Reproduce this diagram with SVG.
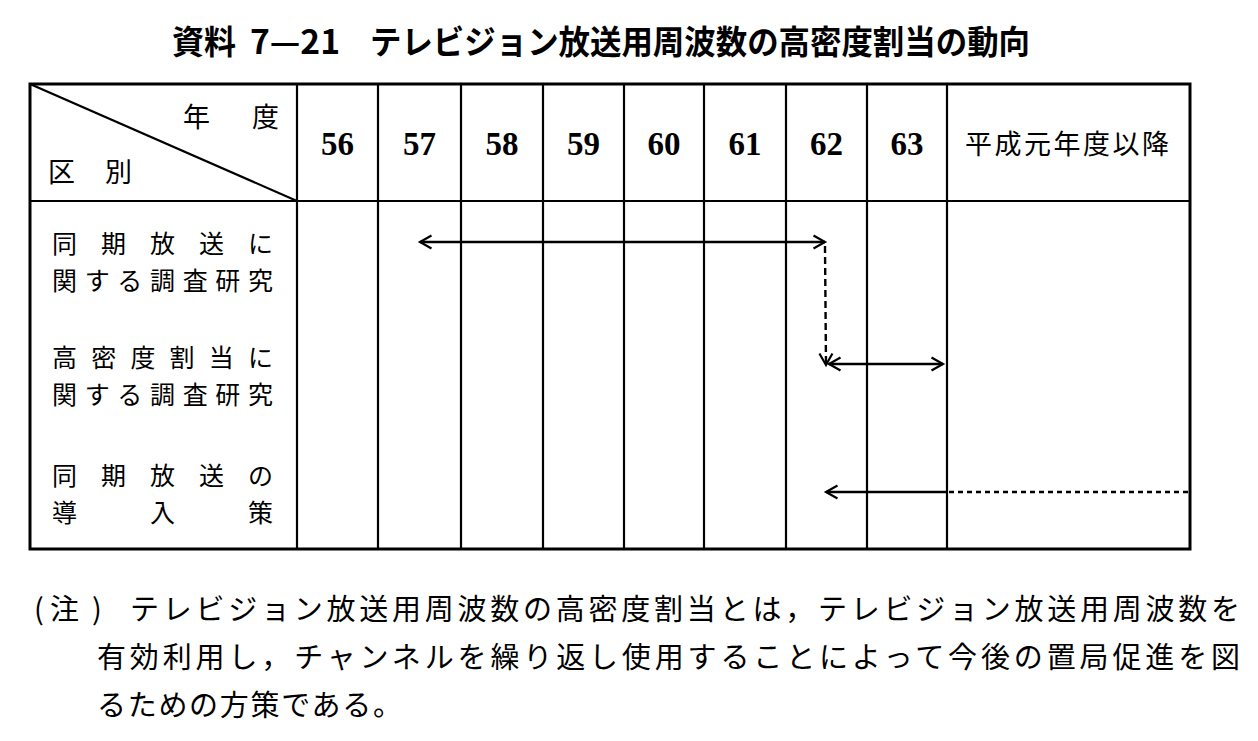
<svg xmlns="http://www.w3.org/2000/svg" width="1258" height="741" viewBox="0 0 1258 741">
<style>
  .jp { font-family: "Noto Sans CJK JP", "Noto Sans CJK SC", sans-serif; fill: #000; }
  .title { font-weight: bold; font-size: 33px; }
  .hd { font-size: 27px; }
  .lbl { font-size: 25px; }
  .note { font-size: 29px; }
  .num { font-family: "Liberation Serif", serif; font-weight: bold; font-size: 33px; fill: #000; }
  .grid line { stroke: #000; stroke-width: 2.2; }
  .conn line { stroke: #000; stroke-width: 2.4; fill: none; }
</style>
<defs>
  <marker id="ah" viewBox="0 0 14 14" markerWidth="14" markerHeight="14" refX="12.5" refY="7" orient="auto-start-reverse" markerUnits="userSpaceOnUse" overflow="visible">
    <path d="M1,0.5 L12.5,7 L1,13.5" fill="none" stroke="#000" stroke-width="2.2"/>
  </marker>
</defs>
<rect width="1258" height="741" fill="#fff"/>

<g id="title">
  <text class="jp title" x="172" y="40" dominant-baseline="central" textLength="64" lengthAdjust="spacingAndGlyphs">資料</text>
  <text class="jp title" x="250" y="40" dominant-baseline="central" textLength="90" lengthAdjust="spacingAndGlyphs">7—21</text>
  <text class="jp title" x="370" y="40" dominant-baseline="central" textLength="660" lengthAdjust="spacingAndGlyphs">テレビジョン放送用周波数の高密度割当の動向</text>
</g>

<g id="table" class="grid">
  <rect x="30" y="84" width="1160" height="465" fill="none" stroke="#000" stroke-width="3"/>
  <line x1="30" y1="201" x2="1190" y2="201"/>
  <line x1="30" y1="84" x2="297" y2="201" stroke-width="1.8"/>
  <line x1="297" y1="84" x2="297" y2="549"/>
  <line x1="378" y1="84" x2="378" y2="549"/>
  <line x1="461" y1="84" x2="461" y2="549"/>
  <line x1="543" y1="84" x2="543" y2="549"/>
  <line x1="624" y1="84" x2="624" y2="549"/>
  <line x1="704" y1="84" x2="704" y2="549"/>
  <line x1="786" y1="84" x2="786" y2="549"/>
  <line x1="867" y1="84" x2="867" y2="549"/>
  <line x1="947" y1="84" x2="947" y2="549"/>
</g>

<g id="header">
  <text class="jp hd" x="183" y="115.5" dominant-baseline="central" textLength="96" lengthAdjust="spacing">年度</text>
  <text class="jp hd" x="48" y="170.5" dominant-baseline="central" textLength="84" lengthAdjust="spacing">区別</text>
  <g text-anchor="middle">
    <text class="num" x="337.5" y="155">56</text>
    <text class="num" x="419.5" y="155">57</text>
    <text class="num" x="502" y="155">58</text>
    <text class="num" x="583.5" y="155">59</text>
    <text class="num" x="664" y="155">60</text>
    <text class="num" x="745" y="155">61</text>
    <text class="num" x="826.5" y="155">62</text>
    <text class="num" x="907" y="155">63</text>
  </g>
  <text class="jp hd" x="965" y="142.5" dominant-baseline="central" textLength="204" lengthAdjust="spacing">平成元年度以降</text>
</g>

<g id="row1">
  <text class="jp lbl" dominant-baseline="central"><tspan x="52" y="242" textLength="221" lengthAdjust="spacing">同期放送に</tspan><tspan x="52" y="279" textLength="221" lengthAdjust="spacing">関する調査研究</tspan></text>
</g>
<g id="row2">
  <text class="jp lbl" dominant-baseline="central"><tspan x="52" y="356" textLength="221" lengthAdjust="spacing">高密度割当に</tspan><tspan x="52" y="393" textLength="221" lengthAdjust="spacing">関する調査研究</tspan></text>
</g>
<g id="row3">
  <text class="jp lbl" dominant-baseline="central"><tspan x="52" y="473.5" textLength="221" lengthAdjust="spacing">同期放送の</tspan><tspan x="52" y="510.5" textLength="221" lengthAdjust="spacing">導入策</tspan></text>
</g>

<g id="connectors" class="conn">
  <line x1="420" y1="242" x2="825" y2="242" marker-start="url(#ah)" marker-end="url(#ah)"/>
  <line x1="825" y1="246" x2="826" y2="365" stroke-dasharray="7,4" marker-end="url(#ah)"/>
  <line x1="829" y1="364" x2="943" y2="364" marker-start="url(#ah)" marker-end="url(#ah)"/>
  <line x1="947" y1="492" x2="826" y2="492" marker-end="url(#ah)"/>
  <line x1="949" y1="492" x2="1188" y2="492" stroke-width="1.8" stroke-dasharray="5,4"/>
</g>

<g id="note">
  <text class="jp note" y="607" dominant-baseline="central"><tspan x="34">(</tspan><tspan x="50">注</tspan><tspan x="92">)</tspan></text>
  <text class="jp note" x="130" y="607" dominant-baseline="central" textLength="1110" lengthAdjust="spacing">テレビジョン放送用周波数の高密度割当とは，テレビジョン放送用周波数を</text>
  <text class="jp note" x="97" y="655" dominant-baseline="central" textLength="1143" lengthAdjust="spacing">有効利用し，チャンネルを繰り返し使用することによって今後の置局促進を図</text>
  <text class="jp note" x="97" y="703" dominant-baseline="central" textLength="305" lengthAdjust="spacing">るための方策である。</text>
</g>
</svg>
